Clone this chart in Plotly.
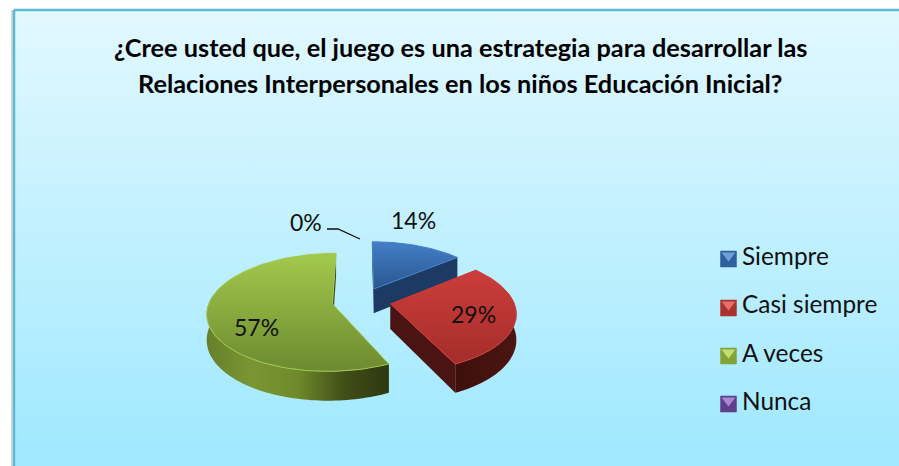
import numpy as np
import plotly.graph_objects as go

categories = ["Siempre", "Casi siempre", "A veces", "Nunca"]
shares = [14, 29, 57, 0]
share_labels = ["14%", "29%", "57%", "0%"]
title_lines = [
    "¿Cree usted que, el juego es una estrategia para desarrollar las",
    "Relaciones Interpersonales en los niños Educación Inicial?",
]

FONT = "Lato"
TOP_COLORS = [("#437fc8", "#2a568f"), ("#cc3d3a", "#a52d2a"), ("#a3c94c", "#6c8a30")]
SWATCHES = [("#2f5f9e", "#6fa0dc"), ("#a9322f", "#e2706c"), ("#84a336", "#c5dd72"), ("#5f3f8c", "#a988d0")]

# pie geometry, pixels
CX, CY = 361.5, 301.0
RX, RY = 123.0, 57.0
PERSP = 0.14
EXPLODE = 0.24
DEPTH = 25.0


def project(u, v):
    s = 1 / (1 - PERSP * v)
    return CX + RX * u * s, CY + RY * v * s, s


def wedge_points(a0, a1, shift):
    t = np.radians(np.linspace(a0, a1, 80))
    return np.sin(t) + shift[0], -np.cos(t) + shift[1]


def add_area(fig, x, y, colors, kind="vertical", line=None):
    x, y = list(x), list(y)
    grad_range = (min(x), max(x)) if kind == "horizontal" else (min(y), max(y))
    scale = [[i / (len(colors) - 1), c] for i, c in enumerate(colors)]
    fig.add_trace(go.Scatter(
        x=x + x[:1], y=y + y[:1],
        mode="lines" if line else "none",
        line=dict(color=line, width=1) if line else None,
        fill="toself",
        fillgradient=dict(type=kind, colorscale=scale, start=grad_range[0], stop=grad_range[1]),
        hoverinfo="skip",
    ))


def add_wedge(fig, idx, a0, a1, wall_colors, edge_color):
    mid = np.radians((a0 + a1) / 2)
    shift = (EXPLODE * np.sin(mid), -EXPLODE * np.cos(mid))

    # radial walls
    for ang in (a0, a1):
        r = np.linspace(0, 1, 2)
        u = shift[0] + r * np.sin(np.radians(ang))
        v = shift[1] - r * np.cos(np.radians(ang))
        px, py, s = project(u, v)
        add_area(fig, np.r_[px, px[::-1]], np.r_[py, (py + DEPTH * s)[::-1]], [edge_color, edge_color])

    # outer wall, near side only
    lo, hi = max(a0, 80), min(a1, 280)
    if hi > lo:
        u, v = wedge_points(lo, hi, shift)
        px, py, s = project(u, v)
        add_area(fig, np.r_[px, px[::-1]], np.r_[py, (py + DEPTH * s)[::-1]], wall_colors, kind="horizontal")

    # top face
    u, v = wedge_points(a0, a1, shift)
    u = np.r_[shift[0], u]
    v = np.r_[shift[1], v]
    px, py, _ = project(u, v)
    add_area(fig, px, py, TOP_COLORS[idx], line=TOP_COLORS[idx][0])


fig = go.Figure()

# soft shadow left of the panel
fig.add_trace(go.Scatter(
    x=[12, 12], y=[10, 466], mode="lines",
    line=dict(color="#d8d8d8", width=2), hoverinfo="skip",
))

# panel, runs off the right and bottom of the picture
fig.add_trace(go.Scatter(
    x=[14, 905, 905, 14, 14], y=[10, 10, 475, 475, 10],
    mode="lines", line=dict(color="#5cb9d3", width=2.5),
    fill="toself",
    fillgradient=dict(type="vertical", colorscale=[[0, "#e2f8ff"], [1, "#9fe8ff"]], start=10, stop=466),
    hoverinfo="skip",
))

wall_styles = [
    (["#1c3a63", "#1c3a63"], "#1c3a63"),
    (["#3e0f0d", "#4c1512"], "#4a1412"),
    (["#66802a", "#7a9632", "#6f8a2b", "#414f18", "#2d3810"], "#3a4715"),
]
total = sum(shares)
angle = 0.0
for i, share in enumerate(shares):
    if share == 0:
        continue
    end = angle + 360 * share / total
    add_wedge(fig, i, angle, end, wall_styles[i][0], wall_styles[i][1])
    angle = end

# leader line for the empty slice
fig.add_trace(go.Scatter(
    x=[327, 338, 360], y=[229, 229, 239], mode="lines",
    line=dict(color="#111111", width=1.3), hoverinfo="skip",
))

# legend swatches and texts
swatch_y = [259, 308, 356, 404]
legend_text_y = [255, 303, 352, 400]
for name, y, ty, (base, light) in zip(categories, swatch_y, legend_text_y, SWATCHES):
    fig.add_trace(go.Scatter(
        x=[728.5], y=[y], mode="markers",
        marker=dict(symbol="square", size=16, color=base, line=dict(color=base, width=0.5)),
        hoverinfo="skip",
    ))
    fig.add_trace(go.Scatter(
        x=[728.5], y=[y - 3.5], mode="markers",
        marker=dict(symbol="triangle-down", size=12, color=light, line=dict(width=0)),
        hoverinfo="skip",
    ))
    fig.add_annotation(x=740, y=ty, text=name, xanchor="left", yanchor="middle", showarrow=False,
                       font=dict(family=FONT, size=24.4, color="#111111"))

# data labels
label_pos = [(413, 220), (473, 314), (256, 327), (306, 222)]
for text, (x, y) in zip(share_labels, label_pos):
    fig.add_annotation(x=x, y=y, text=text, showarrow=False,
                       font=dict(family=FONT, size=23, color="#111111"))

for text, y in zip(title_lines, [47, 83]):
    fig.add_annotation(x=460, y=y, text=f"<b>{text}</b>", showarrow=False,
                       font=dict(family=FONT, size=25.3, color="#000000"))

fig.update_layout(
    width=899, height=466,
    margin=dict(l=0, r=0, t=0, b=0),
    paper_bgcolor="white", plot_bgcolor="white",
    showlegend=False,
    xaxis=dict(range=[0, 899], visible=False, fixedrange=True),
    yaxis=dict(range=[466, 0], visible=False, fixedrange=True),
)
fig.write_html("out.html", config=dict(displayModeBar=False),
               post_script="document.body.style.margin='0';")
